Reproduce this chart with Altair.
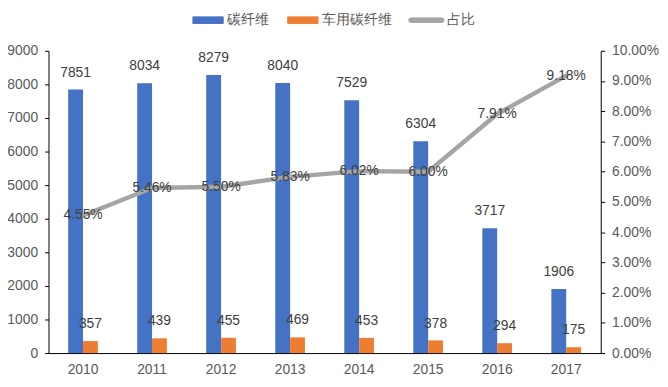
import altair as alt
import pandas as pd

years = ["2010", "2011", "2012", "2013", "2014", "2015", "2016", "2017"]
carbon_fiber = [7851, 8034, 8279, 8040, 7529, 6304, 3717, 1906]
auto_fiber = [357, 439, 455, 469, 453, 378, 294, 175]
share_pct = [4.55, 5.46, 5.50, 5.83, 6.02, 6.00, 7.91, 9.18]
series_names = ["碳纤维", "车用碳纤维", "占比"]
series_colors = ["#4472C4", "#ED7D31", "#A5A5A5"]

bars_df = pd.DataFrame({
    "year": years * 2,
    "series": [series_names[0]] * len(years) + [series_names[1]] * len(years),
    "value": carbon_fiber + auto_fiber,
})
line_df = pd.DataFrame({"year": years, "ratio": [v / 100 for v in share_pct]})

FONT = "Liberation Sans"
LABEL = "#404040"
AXIS_LABEL = "#595959"
FS = 14

x_enc = alt.X("year:N", sort=years,
              scale=alt.Scale(paddingInner=0.57, paddingOuter=0.285),
              axis=alt.Axis(title=None, labelAngle=0, ticks=False, domainColor="#000000",
                            labelColor=AXIS_LABEL, labelFontSize=FS, labelPadding=10))
y_left = alt.Y("value:Q", scale=alt.Scale(domain=[0, 9000], nice=False),
               axis=alt.Axis(title=None, values=list(range(0, 9001, 1000)), format="d",
                             grid=False, domainColor="#000000", tickColor="#000000",
                             tickSize=4, labelPadding=7, labelColor=AXIS_LABEL,
                             labelFontSize=FS, labelOverlap=False))
xoff = alt.XOffset("series:N", sort=series_names[:2])
color_enc = alt.Color("series:N", scale=alt.Scale(domain=series_names[:2], range=series_colors[:2]),
                      legend=None)

bars = alt.Chart(bars_df).mark_bar().encode(x=x_enc, xOffset=xoff, y=y_left, color=color_enc)
bar_text = alt.Chart(bars_df).mark_text(dy=-17, baseline="middle", fontSize=FS, color=LABEL).encode(
    x=x_enc, xOffset=xoff, y=y_left, text=alt.Text("value:Q", format="d"))
left = alt.layer(bars, bar_text)

y_right = alt.Y("ratio:Q", scale=alt.Scale(domain=[0, 0.10], nice=False),
                axis=alt.Axis(title=None, orient="right", values=[i / 100 for i in range(11)],
                              format=".2%", grid=False, domainColor="#000000", tickColor="#000000",
                              tickSize=4, labelPadding=7, labelColor=AXIS_LABEL, labelFontSize=FS,
                              labelOverlap=False))
line = alt.Chart(line_df).mark_line(color=series_colors[2], strokeWidth=4.5, strokeCap="round",
                                     strokeJoin="round").encode(x=x_enc, y=y_right)
line_text = alt.Chart(line_df).mark_text(baseline="middle", fontSize=FS, color=LABEL).encode(
    x=x_enc, y=y_right, text=alt.Text("ratio:Q", format=".2%"))
right = alt.layer(line, line_text)

# legend
leg_df = pd.DataFrame({"name": series_names})
leg_y = -31
sw1 = alt.Chart(leg_df).mark_rule(color=series_colors[0], strokeWidth=7).encode(
    x=alt.value(146), x2=alt.value(177), y=alt.value(leg_y))
sw2 = alt.Chart(leg_df).mark_rule(color=series_colors[1], strokeWidth=7).encode(
    x=alt.value(242), x2=alt.value(273), y=alt.value(leg_y))
sw3 = alt.Chart(leg_df).mark_rule(color=series_colors[2], strokeWidth=5, strokeCap="round").encode(
    x=alt.value(367), x2=alt.value(398), y=alt.value(leg_y))
t1 = alt.Chart(leg_df).transform_filter(alt.datum.name == series_names[0]).mark_text(
    align="left", baseline="middle", fontSize=FS, color=AXIS_LABEL).encode(
    x=alt.value(181), y=alt.value(leg_y), text="name:N")
t2 = alt.Chart(leg_df).transform_filter(alt.datum.name == series_names[1]).mark_text(
    align="left", baseline="middle", fontSize=FS, color=AXIS_LABEL).encode(
    x=alt.value(277), y=alt.value(leg_y), text="name:N")
t3 = alt.Chart(leg_df).transform_filter(alt.datum.name == series_names[2]).mark_text(
    align="left", baseline="middle", fontSize=FS, color=AXIS_LABEL).encode(
    x=alt.value(403), y=alt.value(leg_y), text="name:N")

chart = alt.layer(left, right, sw1, sw2, sw3, t1, t2, t3).resolve_scale(y="independent").properties(
    width=559, height=306,
    autosize=alt.AutoSizeParams(type="none"),
    padding={"left": 41, "top": 41, "right": 60, "bottom": 30},
).configure(font=FONT).configure_view(stroke=None)

chart.save("out.html", embed_options={"renderer": "svg", "actions": False})
